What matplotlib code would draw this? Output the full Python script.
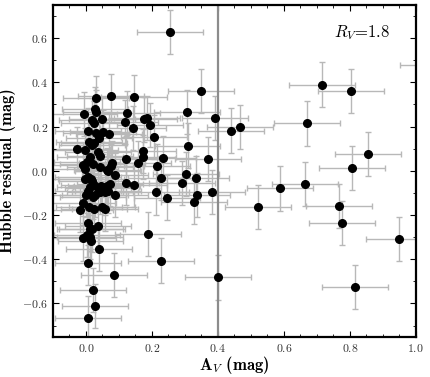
import matplotlib
matplotlib.use("Agg")
import matplotlib.pyplot as plt
from matplotlib.ticker import MultipleLocator

# A_V (mag) and Hubble residual (mag)
av = [
    0.254, 0.348, 0.076, 0.145, 0.030, -0.006, 0.029, 0.030, 0.126, 0.306,
    0.049, 0.018, 0.024, 0.184, 0.176, 0.120, 0.391, 0.195, 0.142, 0.007,
    0.032, 0.052, 0.070, 0.206, 0.010, 0.024, 0.018, 0.308, -0.027, -0.004,
    0.036, 0.174, 0.012, 0.042, 0.173, 0.235, 0.371, 0.123, 0.004, -0.010,
    0.022, 0.078, 0.157, 0.077, 0.215, -0.003, 0.065, 0.042, 0.088, 0.229,
    0.303, 0.335, 0.290, 0.005, 0.018, 0.123, 0.146,
    0.716, 0.803, 0.670, 0.440, 0.468, 0.855, 0.808, 0.664, 0.588, 1.052,
    0.399, 0.522, 0.766, 0.776, 0.948, 0.815,
    -0.018, -0.008, 0.000, 0.005, 0.027, 0.042, 0.058, 0.066, 0.088, 0.010,
    0.025, 0.049, 0.058, 0.214, 0.246, 0.328, 0.338, 0.381, 0.007, 0.012,
    0.020, 0.037, -0.010, 0.002, 0.012, 0.014, 0.039, 0.189, 0.228, 0.007,
    0.086, 0.022, 0.029, 0.005,
    0.012, 0.045, 0.060, -0.003, 0.017, 0.063, 0.073, 0.026, 0.036, 0.022,
    0.068, 0.040,
]
hr = [
    0.629, 0.361, 0.338, 0.334, 0.330, 0.256, 0.280, 0.265, 0.262, 0.265,
    0.232, 0.229, 0.217, 0.240, 0.232, 0.221, 0.240, 0.208, 0.194, 0.182,
    0.170, 0.177, 0.167, 0.153, 0.132, 0.125, 0.117, 0.114, 0.099, 0.095,
    0.084, 0.088, 0.062, 0.068, 0.062, 0.058, 0.052, 0.055, 0.041, 0.027,
    0.030, 0.035, 0.035, 0.023, 0.020, 0.008, 0.003, 0.015, -0.020, -0.032,
    -0.015, -0.032, -0.056, -0.030, -0.044, -0.056, -0.065,
    0.390, 0.361, 0.214, 0.182, 0.199, 0.077, 0.014, -0.060, -0.080, 0.477,
    -0.482, -0.164, -0.159, -0.235, -0.310, -0.527,
    -0.177, -0.144, -0.110, -0.091, -0.110, -0.095, -0.098, -0.091, -0.110, -0.166,
    -0.174, -0.164, -0.171, -0.098, -0.121, -0.141, -0.110, -0.095, -0.235, -0.262,
    -0.265, -0.250, -0.306, -0.291, -0.298, -0.318, -0.353, -0.285, -0.406, -0.417,
    -0.470, -0.538, -0.610, -0.667,
    -0.073, -0.070, -0.075, -0.038, -0.036, -0.068, -0.061, -0.065, -0.080, -0.120,
    0.000, 0.150,
]
AV_ERR = 0.1
HR_ERR = 0.1
AV_CUT = 0.4
RV = 1.8

plt.rcParams['font.family'] = 'serif'
plt.rcParams['font.serif'] = ['cmr10']
plt.rcParams['mathtext.fontset'] = 'cm'
plt.rcParams['axes.formatter.use_mathtext'] = True

fig, ax = plt.subplots(figsize=(4.3, 3.77), dpi=100)
fig.subplots_adjust(left=0.123, right=0.967, bottom=0.107, top=0.987)

ax.errorbar(av, hr, xerr=AV_ERR, yerr=HR_ERR, fmt='none', ecolor='#b8b8b8',
            elinewidth=1.0, capsize=2, capthick=1.0, zorder=1)
ax.axvline(AV_CUT, color='#8c8c8c', lw=1.6, zorder=2)
ax.plot(av, hr, 'o', color='black', ms=5.5, zorder=3)

ax.set_xlim(-0.1, 1.0)
ax.set_ylim(-0.75, 0.75)
ax.xaxis.set_major_locator(MultipleLocator(0.2))
ax.xaxis.set_minor_locator(MultipleLocator(0.05))
ax.yaxis.set_major_locator(MultipleLocator(0.2))
ax.yaxis.set_minor_locator(MultipleLocator(0.1))
ax.tick_params(which='both', direction='in', top=True, right=True,
               labelsize=8.5, labelcolor='#333333')
ax.tick_params(which='major', length=4, width=0.8)
ax.tick_params(which='minor', length=2.5, width=0.6)
for s in ax.spines.values():
    s.set_linewidth(1.6)

ax.set_xlabel(r'A$_V$ (mag)', fontfamily='cmb10', fontsize=12, labelpad=0)
ax.set_ylabel('Hubble residual (mag)', fontfamily='cmb10', fontsize=12, labelpad=4)

ax.text(0.93, 0.945, r'$R_V$=%.1f' % RV, transform=ax.transAxes,
        ha='right', va='top', fontsize=12)

fig.savefig('out.png', dpi=100)
